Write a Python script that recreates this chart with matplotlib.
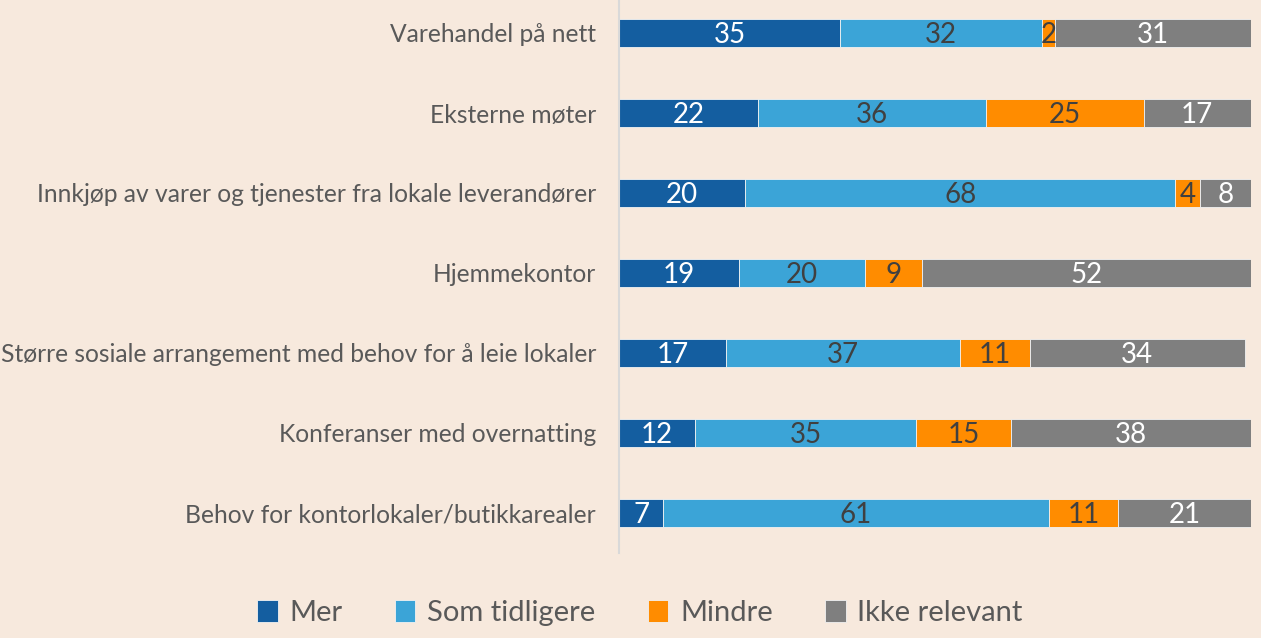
import numpy as np
import matplotlib.pyplot as plt

plt.rcParams['font.family'] = ['Lato', 'DejaVu Sans']

categories = ["Varehandel på nett",
              "Eksterne møter",
              "Innkjøp av varer og tjenester fra lokale leverandører",
              "Hjemmekontor",
              "Større sosiale arrangement med behov for å leie lokaler",
              "Konferanser med overnatting",
              "Behov for kontorlokaler/butikkarealer"]
mer = [35, 22, 20, 19, 17, 12, 7]
som_tidligere = [32, 36, 68, 20, 37, 35, 61]
mindre = [2, 25, 4, 9, 11, 15, 11]
ikke_relevant = [31, 17, 8, 52, 34, 38, 21]

series = [("Mer", mer, "#145EA0", "white"),
          ("Som tidligere", som_tidligere, "#3BA4D7", "#404040"),
          ("Mindre", mindre, "#FF8C00", "#404040"),
          ("Ikke relevant", ikke_relevant, "#7F7F7F", "white")]

bg = "#F7E9DD"
W, H = 1261, 638
fig = plt.figure(figsize=(W / 100, H / 100), dpi=100, facecolor=bg)
ax = fig.add_axes([619 / W, 1 - 553 / H, 632 / W, 553 / H], facecolor=bg)

y = np.arange(len(categories))
left = np.zeros(len(categories))
handles = []
for name, vals, col, tcol in series:
    vals = np.array(vals, dtype=float)
    b = ax.barh(y, vals, left=left, height=0.35, color=col,
                edgecolor="#F2F2F2", linewidth=0.6, label=name)
    handles.append(b)
    for yi, l, v in zip(y, left, vals):
        ax.text(l + v / 2, yi + 0.02, f"{int(v)}", ha="center", va="center",
                color=tcol, fontsize=20)
    left += vals

ax.set_xlim(0, 100)
ax.set_ylim(6.5, -0.4125)
ax.set_yticks(y)
ax.set_yticklabels(categories, fontsize=17.7, color="#595959")
ax.tick_params(axis="y", length=0, pad=16.5)
ax.set_xticks([])
for s in ["top", "right", "bottom"]:
    ax.spines[s].set_visible(False)
ax.spines["left"].set_color("#D9D9D9")
ax.spines["left"].set_linewidth(1.5)

fig.legend(handles=handles, loc="center", bbox_to_anchor=(640 / W, 1 - 613 / H),
           ncol=4, frameon=False, fontsize=21, labelcolor="#595959",
           handlelength=0.7, handleheight=0.8, handletextpad=0.4,
           columnspacing=1.8)

fig.savefig("out.png", dpi=100, facecolor=bg)
